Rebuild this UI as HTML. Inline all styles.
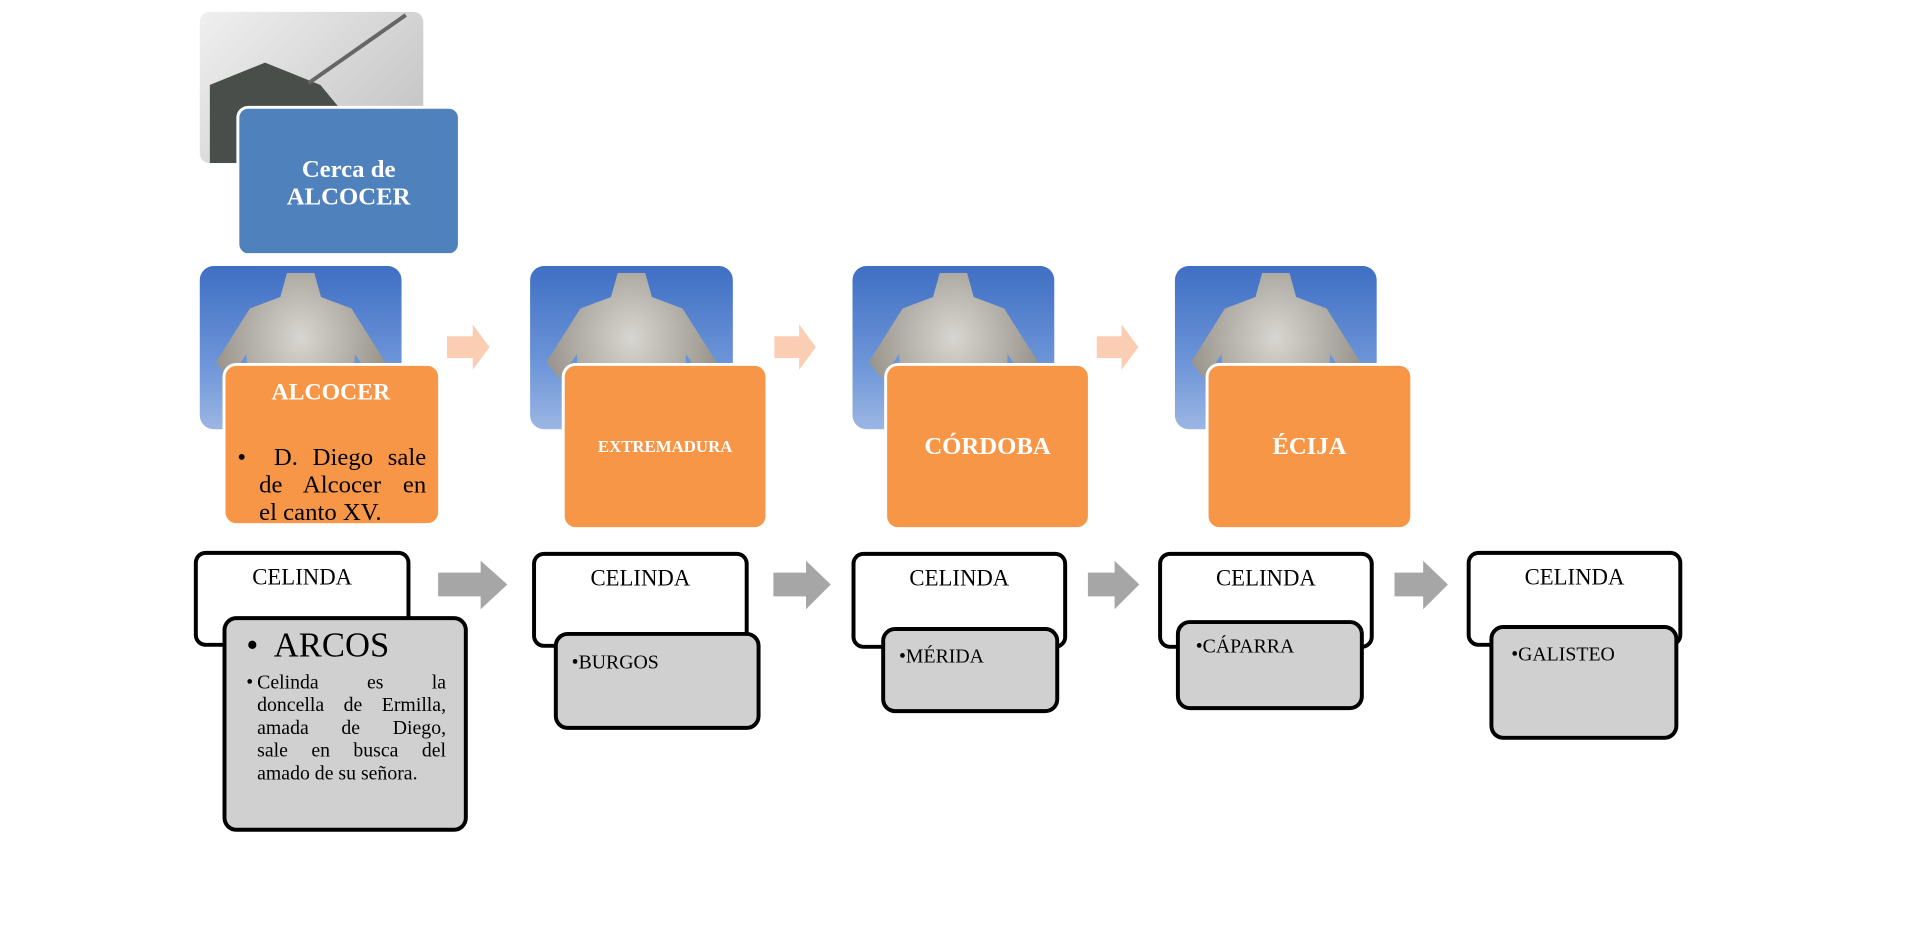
<!DOCTYPE html>
<html><head><meta charset="utf-8"><style>
body{margin:0;width:1920px;height:940px;background:#fff;position:relative;overflow:hidden;font-family:"Liberation Serif",serif}
#w{position:absolute;left:0;top:0;width:1920px;height:940px;transform:scale(0.989);transform-origin:0 0}
.a{position:absolute;box-sizing:border-box}
.photo{border-radius:14px;overflow:hidden;background:linear-gradient(#3f6fc4,#6d95d8 60%,#9bb6e3)}
.photo .fig{position:absolute;left:8%;top:4%;width:84%;height:100%;background:radial-gradient(ellipse at 50% 40%,#d8d6d0,#9a968e 70%);clip-path:polygon(42% 0,58% 0,62% 15%,80% 22%,100% 55%,92% 65%,82% 50%,80% 100%,20% 100%,18% 50%,8% 65%,0 55%,20% 22%,38% 15%)}
.or{background:#f79646;border:3px solid #fff;border-radius:14px;color:#fff;font-weight:bold;text-align:center}
.cel{background:#fff;border:4px solid #000;border-radius:12px;text-align:center;font-size:23px;padding-top:10px}
.gr{background:#d0d0d0;border:4px solid #000;border-radius:14px;font-size:20px}
.j{text-align:justify;text-align-last:justify;white-space:nowrap}
.l{white-space:nowrap;text-align:left}
</style></head><body><div id="w">
<div class="a" style="left:202px;top:12px;width:226px;height:153px;border-radius:10px;background:linear-gradient(135deg,#f0f0f0,#bfbfbf);overflow:hidden">
<div class="a" style="left:10px;top:40px;width:140px;height:113px;background:#4a4e4a;clip-path:polygon(0 30%,40% 10%,60% 20%,80% 30%,100% 60%,70% 100%,0 100%)"></div>
<div class="a" style="left:110px;top:70px;width:120px;height:4px;background:#666;transform:rotate(-35deg);transform-origin:left"></div>
</div>
<div class="a" style="left:239px;top:107px;width:227px;height:152px;background:#4f81bd;border:3px solid #fff;border-radius:12px;color:#fff;font-weight:bold;font-size:25px;text-align:center;padding-top:48px;line-height:28px">Cerca de<br>ALCOCER</div>

<div class="a photo" style="left:202px;top:269px;width:204px;height:165px"><div class="fig"></div></div>
<div class="a photo" style="left:536px;top:269px;width:205px;height:165px"><div class="fig"></div></div>
<div class="a photo" style="left:862px;top:269px;width:204px;height:165px"><div class="fig"></div></div>
<div class="a photo" style="left:1188px;top:269px;width:204px;height:165px"><div class="fig"></div></div>

<svg class="a" style="left:0;top:0" width="1920" height="940">
<g fill="#fbcdb2"><polygon points="452,340 478,340 478,328 495,351 478,374 478,362 452,362"/><polygon points="783,340 808,340 808,328 825,351 808,374 808,362 783,362"/><polygon points="1109,340 1134,340 1134,328 1151,351 1134,374 1134,362 1109,362"/></g>
<g fill="#a6a6a6"><polygon points="443,579 486,579 486,567 513,591 486,616 486,603 443,603"/><polygon points="782,579 815,579 815,567 840,591 815,616 815,603 782,603"/><polygon points="1100,579 1127,579 1127,567 1152,591 1127,616 1127,603 1100,603"/><polygon points="1410,579 1439,579 1439,567 1464,591 1439,616 1439,603 1410,603"/></g>
</svg>

<div class="a or" style="left:225px;top:367px;width:221px;height:165px;padding:14px 12px 0 10px">
<div style="font-size:24px">ALCOCER</div>
<div style="font-size:25px;font-weight:normal;color:#000;margin-top:38px;line-height:28px;padding-left:24px;position:relative;text-align:left">
<span style="position:absolute;left:2px;top:0">•</span>
<div class="j">&nbsp;D. Diego sale</div><div class="j">de Alcocer en</div><div class="l">el canto XV.</div></div></div>
<div class="a or" style="left:568px;top:367px;width:209px;height:169px;font-size:17px;padding-top:72px">EXTREMADURA</div>
<div class="a or" style="left:894px;top:367px;width:209px;height:169px;font-size:25px;padding-top:68px">CÓRDOBA</div>
<div class="a or" style="left:1219px;top:367px;width:210px;height:169px;font-size:25px;padding-top:68px">ÉCIJA</div>

<div class="a cel" style="left:196px;top:557px;width:219px;height:97px">CELINDA</div>
<div class="a cel" style="left:538px;top:558px;width:219px;height:97px">CELINDA</div>
<div class="a cel" style="left:861px;top:558px;width:218px;height:98px">CELINDA</div>
<div class="a cel" style="left:1171px;top:558px;width:218px;height:98px">CELINDA</div>
<div class="a cel" style="left:1483px;top:557px;width:218px;height:97px">CELINDA</div>

<div class="a gr" style="left:225px;top:623px;width:248px;height:218px;padding:6px 18px 0 20px">
<div style="font-size:35px">•&nbsp; ARCOS</div>
<div style="font-size:20px;line-height:23px;margin-top:6px;position:relative;padding-left:11px">
<span style="position:absolute;left:0;top:0">•</span>
<div class="j">Celinda es la</div><div class="j">doncella de Ermilla,</div><div class="j">amada de Diego,</div><div class="j">sale en busca del</div><div class="l">amado de su señora.</div></div></div>
<div class="a gr" style="left:560px;top:639px;width:209px;height:99px;padding:16px 0 0 14px">•BURGOS</div>
<div class="a gr" style="left:891px;top:634px;width:180px;height:87px;padding:15px 0 0 14px">•MÉRIDA</div>
<div class="a gr" style="left:1189px;top:627px;width:190px;height:91px;padding:12px 0 0 16px">•CÁPARRA</div>
<div class="a gr" style="left:1506px;top:632px;width:191px;height:116px;padding:15px 0 0 18px">•GALISTEO</div>
</div></body></html>
